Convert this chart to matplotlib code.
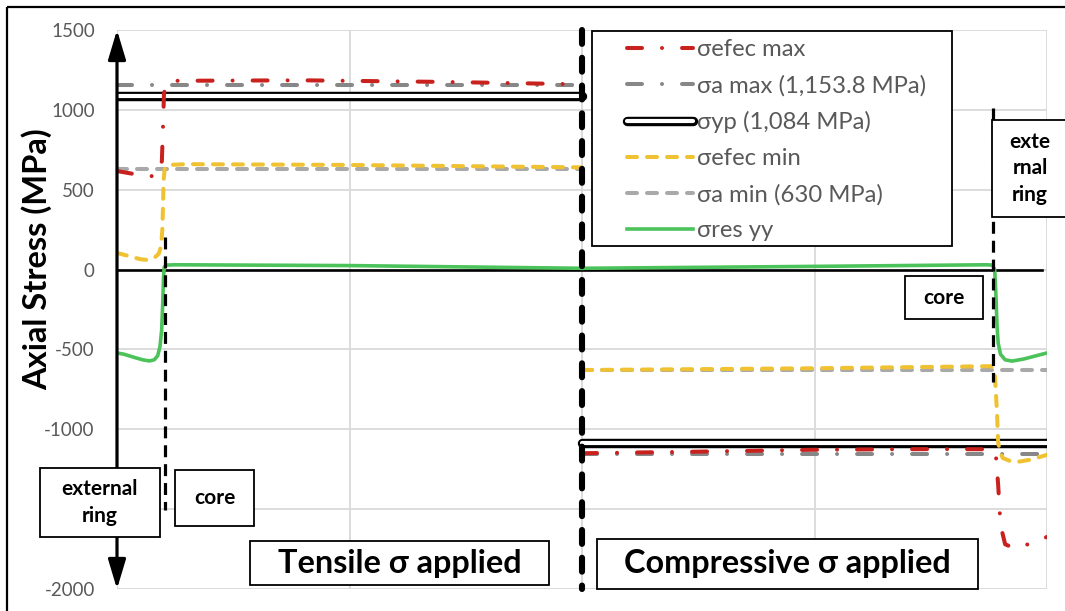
import matplotlib
matplotlib.use("Agg")
import matplotlib.pyplot as plt
import matplotlib.patheffects as pe
from matplotlib.patches import Rectangle
from matplotlib.transforms import Affine2D

# ---------------------------------------------------------------------------
# Data (MPa) along the normalised position; 0-2 tensile load, 2-4 compressive
# ---------------------------------------------------------------------------
sigma_a_max = 1153.8
sigma_a_min = 630.0
sigma_yp = 1084.0

tensile_span = [0.0, 2.0]
compressive_span = [2.0, 4.0]
core_edge_tensile = 0.206
core_edge_compressive = 3.768

# effective maximum stress
x_efec_max_t = [0.0, 0.07, 0.15, 0.18, 0.193, 0.198, 0.202, 0.21, 0.25, 0.8, 1.4, 2.0]
efec_max_t = [617, 599, 585, 600, 680, 900, 1100, 1160, 1182, 1185, 1175, 1160]
x_efec_max_c = [2.0, 2.5, 3.0, 3.5, 3.76, 3.78, 3.79, 3.80, 3.82, 3.86, 3.93, 4.0]
efec_max_c = [-1150, -1140, -1128, -1124, -1125, -1160, -1350, -1600, -1720, -1745, -1715, -1674]

# effective minimum stress
x_efec_min_t = [0.0, 0.05, 0.1, 0.133, 0.16, 0.18, 0.19, 0.195, 0.198, 0.2, 0.205,
                0.22, 0.3, 1.0, 2.0]
efec_min_t = [104, 85, 65, 60, 72, 100, 150, 250, 400, 550, 630, 655, 660, 655, 640]
x_efec_min_c = [2.0, 3.0, 3.76, 3.775, 3.785, 3.79, 3.80, 3.81, 3.84, 3.87, 3.93, 4.0]
efec_min_c = [-629, -618, -605, -640, -900, -1085, -1150, -1180, -1198, -1205, -1190, -1160]

# residual stress yy
x_res_t = [0.0, 0.03, 0.07, 0.11, 0.14, 0.16, 0.175, 0.185, 0.192, 0.197, 0.2,
           0.203, 0.21, 0.25, 1.0, 2.0]
res_t = [-522, -530, -548, -565, -572, -565, -540, -480, -380, -200, -50,
         15, 28, 30, 25, 8]
x_res_c = [2.0, 3.0, 3.74, 3.765, 3.775, 3.78, 3.785, 3.79, 3.80, 3.82, 3.85,
           3.9, 4.0]
res_c = [8, 20, 30, 28, 0, -150, -350, -460, -530, -565, -573, -560, -522]

y_ticks = [1500, 1000, 500, 0, -500, -1000, -1500, -2000]
y_ticklabels = ["1500", "1000", "500", "0", "-500", "-1000", "", "-2000"]

labels = ["σefec max", "σa max (1,153.8 MPa)", "σyp (1,084 MPa)",
          "σefec min", "σa min (630 MPa)", "σres yy"]

# ---------------------------------------------------------------------------
W, H = 1065, 611
plt.rcParams["font.family"] = ["Lato", "DejaVu Sans"]
plt.rcParams["lines.scale_dashes"] = False

RED = "#c9211e"
DGRAY = "#878787"
LGRAY = "#a9a9a9"
YEL = "#f0c232"
GRN = "#4cc25a"
TXT = "#595959"

fig = plt.figure(figsize=(W / 100, H / 100), dpi=100)
ax = fig.add_axes([117 / W, 1 - 589 / H, (1047 - 117) / W, (589 - 30) / H])
ax.set_xlim(0, 4)
ax.set_ylim(-2000, 1500)

# pixel coordinates measured from the top-left corner of the image
PX = Affine2D().scale(1, -1).translate(0, H)

# grid
ax.set_xticks([0, 1, 2, 3, 4])
ax.set_xticklabels([])
ax.set_yticks(y_ticks)
ax.set_yticklabels(y_ticklabels)
ax.tick_params(axis="both", length=0)
ax.tick_params(axis="y", pad=16, labelsize=13.5, labelcolor=TXT)
ax.grid(True, color="#d9d9d9", lw=1.3, zorder=0)
ax.set_axisbelow(True)
for s in ax.spines.values():
    s.set_visible(False)

lw = 2.9
dashdot = (0, (10.8, 14.4, 0.01, 14.4))
dashed = (0, (7.2, 7.2))

# effective max
l_efec_max, = ax.plot(x_efec_max_t, efec_max_t, color=RED, lw=lw, ls=dashdot,
                      dash_capstyle="round", zorder=4)
ax.plot(x_efec_max_c, efec_max_c, color=RED, lw=lw, ls=dashdot,
        dash_capstyle="round", zorder=4)

# allowable max
l_a_max, = ax.plot(tensile_span, [sigma_a_max] * 2, color=DGRAY, lw=lw, ls=dashdot,
                   dash_capstyle="round", zorder=3)
ax.plot(compressive_span, [-sigma_a_max] * 2, color=DGRAY, lw=lw, ls=dashdot,
        dash_capstyle="round", zorder=3)

# yield stress as an outlined bar
yp_fx = [pe.Stroke(linewidth=6.8, foreground="black"), pe.Normal()]
l_yp, = ax.plot(tensile_span, [sigma_yp] * 2, color="white", lw=3.0,
                solid_capstyle="round", path_effects=yp_fx, zorder=3)
ax.plot(compressive_span, [-sigma_yp] * 2, color="white", lw=3.0,
        solid_capstyle="round", path_effects=yp_fx, zorder=3)

# allowable min
l_a_min, = ax.plot(tensile_span, [sigma_a_min] * 2, color=LGRAY, lw=lw, ls=dashed,
                   dash_capstyle="round", zorder=3)
ax.plot(compressive_span, [-sigma_a_min] * 2, color=LGRAY, lw=lw, ls=dashed,
        dash_capstyle="round", zorder=3)

# effective min
l_efec_min, = ax.plot(x_efec_min_t, efec_min_t, color=YEL, lw=lw, ls=dashed,
                      dash_capstyle="round", zorder=4)
ax.plot(x_efec_min_c, efec_min_c, color=YEL, lw=lw, ls=dashed,
        dash_capstyle="round", zorder=4)

# zero line
ax.plot([0, 3.98], [0, 0], color="black", lw=1.9, zorder=3)

# residual
l_res, = ax.plot(x_res_t, res_t, color=GRN, lw=2.6, zorder=5,
                 solid_joinstyle="round")
ax.plot(x_res_c, res_c, color=GRN, lw=2.6, zorder=5, solid_joinstyle="round")

# separators between ring and core, and between load cases
ax.plot([core_edge_tensile] * 2, [204, -1505], color="black", lw=2.3,
        ls=(0, (8.6, 5.0)), zorder=6)
ax.plot([core_edge_compressive] * 2, [1011, -704], color="black", lw=2.3,
        ls=(0, (8.6, 5.0)), zorder=6)
ax.plot([2, 2], [1500, -2000], color="black", lw=4.4, ls=(0, (10, 10)),
        dash_capstyle="round", zorder=7, clip_on=False)

# vertical axis with arrow heads
ax.annotate("", xy=(0, 1500), xytext=(0, -2000),
            arrowprops=dict(arrowstyle="<|-|>,head_length=1.0,head_width=0.3",
                            mutation_scale=18, lw=2.3, color="black",
                            shrinkA=0, shrinkB=0),
            annotation_clip=False, zorder=8)

# y axis title
fig.text(37, 259, "Axial Stress (MPa)", transform=PX, rotation=90,
         ha="center", va="center", fontsize=23.5, fontweight="bold", color="black")


def boxed(x0, y0, x1, y1, text, size, tx=None, ty=None, ls=1.4):
    fig.add_artist(Rectangle((x0, y0), x1 - x0, y1 - y0, transform=PX,
                             fc="white", ec="black", lw=1.3, zorder=4))
    tx = (x0 + x1) / 2 if tx is None else tx
    ty = (y0 + y1) / 2 if ty is None else ty
    fig.text(tx, ty, text, transform=PX, ha="center", va="center",
             fontsize=size, fontweight="bold", color="black",
             linespacing=ls, zorder=6)


boxed(40, 468, 160, 537, "external\nring", 15)
boxed(175, 470, 254, 526, "core", 15)
boxed(250, 541, 549, 585, "Tensile σ applied", 23.3)
boxed(597, 539, 978, 589, "Compressive σ applied", 23.3)
boxed(905, 276, 983, 319, "core", 15)
boxed(992, 120, 1075, 217, "exte\nrnal\nring", 15, tx=1030)

# legend
fig.add_artist(Rectangle((592, 31), 952 - 592, 246 - 31, transform=PX,
                         fc="white", ec="black", lw=1.3, zorder=4))
fig.legend([l_efec_max, l_a_max, l_yp, l_efec_min, l_a_min, l_res], labels,
           loc="upper left", bbox_to_anchor=(615 / W, 1 - 27 / H),
           frameon=False, fontsize=17.2, labelcolor=TXT, borderpad=0,
           handlelength=2.75, handletextpad=0.2, labelspacing=0.62)

# outer frame
fig.add_artist(Rectangle((7, 7), 1100, 700, transform=PX, fill=False,
                         ec="black", lw=1.6, zorder=10))

fig.savefig("out.png", dpi=100)
